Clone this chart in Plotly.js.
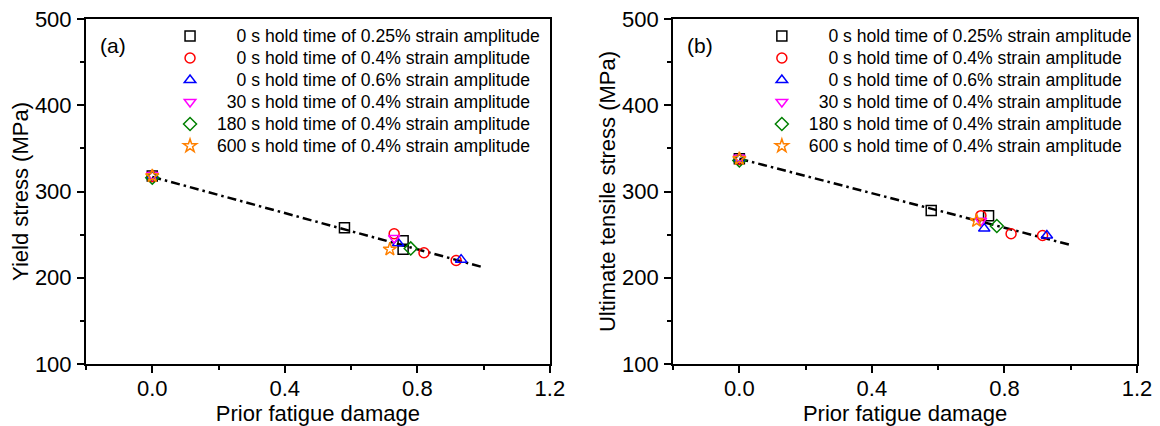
<!DOCTYPE html>
<html>
<head>
<meta charset="utf-8">
<script src="https://cdn.plot.ly/plotly-3.0.1.min.js"></script>
<style>html,body{margin:0;padding:0;background:#fff;}#chart{width:1160px;height:426px;}</style>
</head>
<body>
<div id="chart"></div>
<script>
// ---------- data ----------
const seriesNames = [
  '0 s hold time of 0.25% strain amplitude',
  '0 s hold time of 0.4% strain amplitude',
  '0 s hold time of 0.6% strain amplitude',
  '30 s hold time of 0.4% strain amplitude',
  '180 s hold time of 0.4% strain amplitude',
  '600 s hold time of 0.4% strain amplitude'
];
const namePad = [4, 4, 4, 2, 0, 0];
const seriesColors = ['#000000', '#ff0000', '#0000ff', '#ff00ff', '#008000', '#ff8000'];
const seriesSymbols = ['square-open', 'circle-open', 'triangle-up-open', 'triangle-down-open', 'diamond-open', 'star-open'];

// (a) yield stress
const dmgA_s1 = [0, 0.58, 0.757, 0.757];
const ysA_s1  = [318, 258, 243, 233];
const dmgA_s2 = [0, 0.73, 0.82, 0.917];
const ysA_s2  = [317, 251, 229, 220];
const dmgA_s3 = [0, 0.742, 0.932];
const ysA_s3  = [318, 240, 221];
const dmgA_s4 = [0, 0.73];
const ysA_s4  = [319, 246];
const dmgA_s5 = [0, 0.78];
const ysA_s5  = [316, 234];
const dmgA_s6 = [0, 0.717];
const ysA_s6  = [318, 233];
const fitX  = [0, 1.0];
const fitYA = [317, 212];

// (b) ultimate tensile stress
const dmgB_s1 = [0, 0.579, 0.752];
const utsB_s1 = [338, 278, 272];
const dmgB_s2 = [0, 0.729, 0.82, 0.915];
const utsB_s2 = [337, 272, 251, 249];
const dmgB_s3 = [0, 0.739, 0.928];
const utsB_s3 = [338, 257, 249];
const dmgB_s4 = [0, 0.729];
const utsB_s4 = [339, 266];
const dmgB_s5 = [0, 0.777];
const utsB_s5 = [336, 260];
const dmgB_s6 = [0, 0.716];
const utsB_s6 = [338, 266];
const fitYB = [338, 238];

const xTickVals = [0, 0.4, 0.8, 1.2];
const xTickText = ['0.0', '0.4', '0.8', '1.2'];
const yTickVals = [100, 200, 300, 400, 500];
const yTickText = ['100', '200', '300', '400', '500'];
const panelLabels = ['(a)', '(b)'];
const xTitle = 'Prior fatigue damage';
const yTitles = ['Yield stress (MPa)', 'Ultimate tensile stress (MPa)'];

// ---------- build ----------
const FONT = 'Liberation Sans, Arial, sans-serif';
const xsA = [dmgA_s1, dmgA_s2, dmgA_s3, dmgA_s4, dmgA_s5, dmgA_s6];
const ysA = [ysA_s1, ysA_s2, ysA_s3, ysA_s4, ysA_s5, ysA_s6];
const xsB = [dmgB_s1, dmgB_s2, dmgB_s3, dmgB_s4, dmgB_s5, dmgB_s6];
const ysB = [utsB_s1, utsB_s2, utsB_s3, utsB_s4, utsB_s5, utsB_s6];

function legendName(i) {
  return '<span style="font-size:17.6px">' + '\u00A0'.repeat(namePad[i]) + seriesNames[i] + '</span>';
}

const traces = [];
traces.push({x: fitX, y: fitYA, xaxis: 'x', yaxis: 'y', mode: 'lines', showlegend: false,
  line: {color: '#000', width: 2.5, dash: '9px,4px,2.5px,4px'}, hoverinfo: 'skip'});
traces.push({x: fitX, y: fitYB, xaxis: 'x2', yaxis: 'y2', mode: 'lines', showlegend: false,
  line: {color: '#000', width: 2.5, dash: '9px,4px,2.5px,4px'}, hoverinfo: 'skip'});

for (let i = 0; i < 6; i++) {
  const mk = {symbol: seriesSymbols[i], size: 10, color: seriesColors[i], line: {color: seriesColors[i], width: 1.5}};
  traces.push({x: xsA[i], y: ysA[i], xaxis: 'x', yaxis: 'y', mode: 'markers', name: legendName(i),
    marker: mk, legend: 'legend'});
  traces.push({x: xsB[i], y: ysB[i], xaxis: 'x2', yaxis: 'y2', mode: 'markers', name: legendName(i),
    marker: mk, legend: 'legend2'});
}

const axisCommon = {
  showline: true, linewidth: 2, linecolor: '#000', mirror: true,
  ticks: 'outside', ticklen: 7, tickwidth: 2, tickcolor: '#000',
  showgrid: false, zeroline: false,
  tickfont: {family: FONT, size: 22, color: '#000'},
};
function xAxis(domain, anchor) {
  return Object.assign({}, axisCommon, {
    domain: domain, anchor: anchor, range: [-0.2, 1.2],
    tickmode: 'array', tickvals: xTickVals, ticktext: xTickText,
    minor: {ticks: 'outside', ticklen: 4, tickwidth: 2, tickcolor: '#000', dtick: 0.2, tick0: 0, showgrid: false},
    ticklabelstandoff: -3,
    title: {text: xTitle, font: {family: FONT, size: 22, color: '#000'}, standoff: 4},
    automargin: false
  });
}
function yAxis(anchor, title) {
  return Object.assign({}, axisCommon, {
    domain: [0, 1], anchor: anchor, range: [100, 500],
    tickmode: 'array', tickvals: yTickVals, ticktext: yTickText,
    minor: {ticks: 'outside', ticklen: 4, tickwidth: 2, tickcolor: '#000', dtick: 50, tick0: 0, showgrid: false},
    ticklabelstandoff: 1,
    title: {text: title, font: {family: FONT, size: 22, color: '#000'}, standoff: 0},
    automargin: false
  });
}

const legendCommon = {
  xanchor: 'left', yanchor: 'top', bgcolor: 'rgba(0,0,0,0)', borderwidth: 0,
  font: {family: FONT, size: 14.6, color: '#000'}, itemwidth: 44, tracegroupgap: 0
};

const layout = {
  width: 1160, height: 426,
  margin: {l: 86, r: 22.7, t: 19, b: 62, pad: 0},
  paper_bgcolor: '#fff', plot_bgcolor: '#fff',
  font: {family: FONT, color: '#000'},
  xaxis: xAxis([0, 0.4414], 'y'),
  yaxis: yAxis('x', yTitles[0]),
  xaxis2: xAxis([0.5586, 1], 'y2'),
  yaxis2: yAxis('x2', yTitles[1]),
  legend: Object.assign({}, legendCommon, {x: 0.0733, y: 0.997}),
  legend2: Object.assign({}, legendCommon, {x: 0.6364, y: 0.997}),
  annotations: [
    {text: panelLabels[0], xref: 'x domain', yref: 'y domain', x: 0.0248, y: 0.9246, xanchor: 'left', yanchor: 'middle', showarrow: false, font: {family: FONT, size: 21, color: '#000'}},
    {text: panelLabels[1], xref: 'x2 domain', yref: 'y2 domain', x: 0.0252, y: 0.9246, xanchor: 'left', yanchor: 'middle', showarrow: false, font: {family: FONT, size: 21, color: '#000'}}
  ],
  showlegend: true
};

Plotly.newPlot('chart', traces, layout, {displayModeBar: false, staticPlot: true});
</script>
</body>
</html>
